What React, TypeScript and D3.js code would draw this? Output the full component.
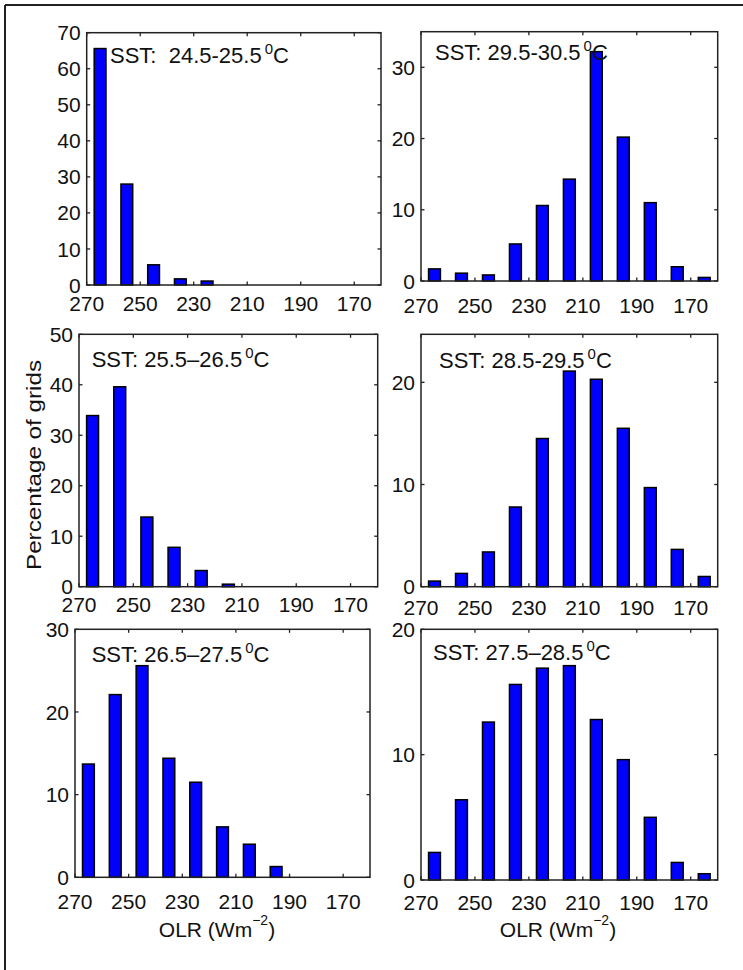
import React from "react";
import * as d3 from "d3";

// OLR bin centres (W m^-2)
const olrBins = [265, 255, 245, 235, 225, 215, 205, 195, 185, 175, 165];
const xTickValues = [270, 250, 230, 210, 190, 170];

const sst245 = [65.6, 28.0, 5.6, 1.7, 1.1, 0, 0, 0, 0, 0, 0];
const sst295 = [1.7, 1.1, 0.85, 5.2, 10.6, 14.3, 32.2, 20.2, 11.0, 2.0, 0.5];
const sst255 = [33.9, 39.6, 13.8, 7.8, 3.2, 0.5, 0, 0, 0, 0, 0];
const sst285 = [0.55, 1.3, 3.4, 7.8, 14.5, 21.1, 20.3, 15.5, 9.7, 3.65, 1.0];
const sst265 = [13.7, 22.1, 25.6, 14.4, 11.5, 6.1, 4.0, 1.3, 0, 0, 0];
const sst275 = [2.2, 6.4, 12.6, 15.6, 16.9, 17.1, 12.8, 9.6, 5.0, 1.4, 0.5];

const titles = [
  "SST:  24.5-25.5",
  "SST: 29.5-30.5",
  "SST: 25.5\u201326.5",
  "SST: 28.5-29.5",
  "SST: 26.5\u201327.5",
  "SST: 27.5\u201328.5",
];
const yMaxes = [70, 35, 50, 24.7, 30, 20];
const yTickLists = [
  [0, 10, 20, 30, 40, 50, 60, 70],
  [0, 10, 20, 30],
  [0, 10, 20, 30, 40, 50],
  [0, 10, 20],
  [0, 10, 20, 30],
  [0, 10, 20],
];
const seriesList = [sst245, sst295, sst255, sst285, sst265, sst275];

// layout (pixel boxes of each panel)
const boxes = [
  { l: 86.7, t: 32.7, r: 381, b: 285, tx: 110, ty: 63, xb: 311 },
  { l: 421, t: 31.7, r: 717.7, b: 281, tx: 435, ty: 60, xb: 313 },
  { l: 79, t: 334.3, r: 377.7, b: 586.7, tx: 91.7, ty: 367, xb: 612 },
  { l: 421, t: 334.3, r: 717.7, b: 586.7, tx: 439, ty: 368, xb: 615 },
  { l: 75, t: 629.3, r: 370, b: 877.3, tx: 91.7, ty: 662, xb: 909 },
  { l: 421, t: 629.3, r: 717.7, b: 880, tx: 433, ty: 660, xb: 910 },
];

const FONT = "'Liberation Sans', Arial, Helvetica, sans-serif";
const AXIS = "#222";

function Panel({ i }: { i: number }) {
  const bx = boxes[i];
  const x = d3.scaleLinear().domain([270, 160]).range([bx.l, bx.r]);
  const y = d3.scaleLinear().domain([0, yMaxes[i]]).range([bx.b, bx.t]);
  const data = seriesList[i];
  const halfW = 2.2;
  const tickLen = 3.5;
  return (
    <g>
      {data.map((v, k) =>
        v > 0 ? (
          <rect
            key={k}
            x={x(olrBins[k] + halfW)}
            y={y(v)}
            width={x(olrBins[k] - halfW) - x(olrBins[k] + halfW)}
            height={y(0) - y(v)}
            fill="#0000ff"
            stroke="#000"
            strokeWidth={1.5}
          />
        ) : null
      )}
      <rect
        x={bx.l}
        y={bx.t}
        width={bx.r - bx.l}
        height={bx.b - bx.t}
        fill="none"
        stroke={AXIS}
        strokeWidth={1.5}
      />
      {xTickValues.map((tv) => (
        <g key={"x" + tv}>
          <line x1={x(tv)} x2={x(tv)} y1={bx.b} y2={bx.b - tickLen} stroke={AXIS} strokeWidth={1.3} />
          <line x1={x(tv)} x2={x(tv)} y1={bx.t} y2={bx.t + tickLen} stroke={AXIS} strokeWidth={1.3} />
          <text x={x(tv)} y={bx.xb} textAnchor="middle" fontSize={21} fontFamily={FONT} fill="#111">
            {tv}
          </text>
        </g>
      ))}
      {yTickLists[i].map((tv) => (
        <g key={"y" + tv}>
          <line x1={bx.l} x2={bx.l + tickLen} y1={y(tv)} y2={y(tv)} stroke={AXIS} strokeWidth={1.3} />
          <line x1={bx.r} x2={bx.r - tickLen} y1={y(tv)} y2={y(tv)} stroke={AXIS} strokeWidth={1.3} />
          <text
            x={bx.l - 6}
            y={y(tv)}
            dy="0.36em"
            textAnchor="end"
            fontSize={21}
            fontFamily={FONT}
            fill="#111"
          >
            {tv}
          </text>
        </g>
      ))}
      <text x={bx.tx} y={bx.ty} fontSize={22} fontFamily={FONT} fill="#111" style={{ whiteSpace: "pre" }}>
        {titles[i]}
        <tspan dx={3} dy={-9} fontSize={15}>0</tspan>
        <tspan dy={9}>C</tspan>
      </text>
    </g>
  );
}

function XLabel({ cx }: { cx: number }) {
  return (
    <text x={cx} y={936.5} textAnchor="middle" fontSize={21} fontFamily={FONT} fill="#111">
      OLR (Wm
      <tspan dy={-12} fontSize={14}>{"\u22122"}</tspan>
      <tspan dy={12}>)</tspan>
    </text>
  );
}

export default function App() {
  return (
    <svg
      width={743}
      height={970}
      style={{ position: "absolute", left: 0, top: 0, background: "#fff" }}
    >
      <rect x={0} y={0} width={743} height={970} fill="#fff" />
      <line x1={5} x2={743} y1={5} y2={5} stroke={AXIS} strokeWidth={2} />
      <line x1={5} x2={5} y1={5} y2={970} stroke={AXIS} strokeWidth={2} />
      {boxes.map((_, i) => (
        <Panel key={i} i={i} />
      ))}
      <XLabel cx={217} />
      <XLabel cx={558} />
      <text
        transform="translate(41,465) rotate(-90)"
        textAnchor="middle"
        fontSize={21}
        fontFamily={FONT}
        fill="#111"
        textLength={210}
        lengthAdjust="spacingAndGlyphs"
      >
        Percentage of grids
      </text>
    </svg>
  );
}
